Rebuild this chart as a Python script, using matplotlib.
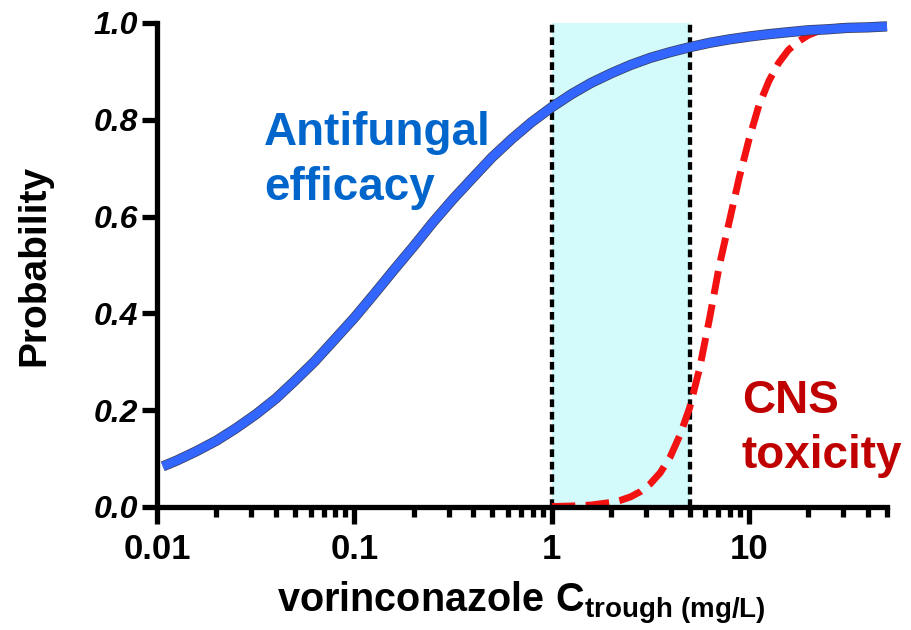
import matplotlib
matplotlib.use("Agg")
import matplotlib.pyplot as plt
import matplotlib.patheffects as pe
from matplotlib.ticker import FixedLocator, NullFormatter, FixedFormatter

plt.rcParams['font.family'] = ['Liberation Sans', 'DejaVu Sans']
plt.rcParams['mathtext.fontset'] = 'custom'
plt.rcParams['mathtext.rm'] = 'Liberation Sans:bold'
plt.rcParams['mathtext.bf'] = 'Liberation Sans:bold'
plt.rcParams['mathtext.it'] = 'Liberation Sans:bold:italic'

# Probability of antifungal efficacy vs voriconazole trough concentration (mg/L)
efficacy_conc = [0.0107, 0.0126, 0.0158, 0.020, 0.025, 0.0316, 0.040, 0.050, 0.063,
                 0.079, 0.10, 0.126, 0.158, 0.20, 0.25, 0.316, 0.40, 0.50, 0.63,
                 0.79, 1.0, 1.26, 1.58, 2.0, 2.5, 3.16, 4.0, 5.0, 6.3, 7.9, 10.0,
                 12.6, 15.8, 20.0, 25.0, 31.6, 40.0, 50.0]
efficacy_prob = [0.084, 0.096, 0.115, 0.137, 0.162, 0.191, 0.224, 0.261, 0.301,
                 0.345, 0.391, 0.440, 0.489, 0.539, 0.588, 0.636, 0.681, 0.723,
                 0.761, 0.795, 0.826, 0.853, 0.876, 0.896, 0.913, 0.928, 0.940,
                 0.950, 0.959, 0.966, 0.972, 0.977, 0.981, 0.985, 0.987, 0.990,
                 0.991, 0.993]

# Probability of CNS toxicity
toxicity_conc = [1.0, 1.26, 1.58, 2.0, 2.24, 2.51, 2.82, 3.16, 3.55, 3.98, 4.47,
                 5.0, 5.62, 6.31, 7.08, 7.94, 8.91, 10.0, 11.2, 12.6, 14.1, 15.8,
                 17.8, 20.0, 22.4, 25.1, 31.6, 50.0]
toxicity_prob = [0.001, 0.002, 0.004, 0.0095, 0.014, 0.021, 0.032, 0.048, 0.071,
                 0.103, 0.149, 0.205, 0.287, 0.390, 0.500, 0.590, 0.680, 0.760,
                 0.829, 0.880, 0.917, 0.944, 0.962, 0.975, 0.983, 0.989, 0.993,
                 0.995]

# Therapeutic window
target_range = [1.0, 5.0]

x_major = [0.01, 0.1, 1, 10]
x_major_labels = ["0.01", "0.1", "1", "10"]
x_minor = [m * d for d in (0.01, 0.1, 1) for m in range(2, 10)] + [20, 30, 40, 50]
y_ticks = [0.0, 0.2, 0.4, 0.6, 0.8, 1.0]
y_tick_labels = ["0.0", "0.2", "0.4", "0.6", "0.8", "1.0"]

fig = plt.figure(figsize=(9.12, 6.30), dpi=100)
ax = fig.add_axes([157 / 912, 1 - 507 / 630, (887 - 157) / 912, (507 - 23) / 630])

ax.set_xscale('log')
ax.set_xlim(0.01, 50)
ax.set_ylim(0, 1.0)

# Shaded target window with dotted borders
ax.axvspan(target_range[0], target_range[1], ymin=0, ymax=1, color='#d4fbfb',
           lw=0, zorder=0)
for xv in target_range:
    ax.plot([xv, xv], [0, 1.0], color='black', lw=3.1,
            linestyle=(0, (1.8, 1.1)), dash_capstyle='butt', zorder=1,
            clip_on=False)

# Curves
ax.plot(toxicity_conc, toxicity_prob, color='#f21212', lw=5,
        linestyle=(0, (3.4, 1.5)), dash_capstyle='butt', zorder=2,
        solid_joinstyle='round')
ax.plot(efficacy_conc, efficacy_prob, color='#3366ff', lw=6.3, zorder=3,
        solid_capstyle='butt', solid_joinstyle='round',
        path_effects=[pe.Stroke(linewidth=7.4, foreground='#3a3f5e'), pe.Normal()],
        clip_on=False)

# Curve annotations
ax.text(0.0349, 0.748, "Antifungal", color='#0066cc', fontsize=33,
        fontweight='bold', ha='left', va='baseline')
ax.text(0.0349, 0.634, "efficacy", color='#0066cc', fontsize=33,
        fontweight='bold', ha='left', va='baseline')
ax.text(9.2, 0.194, "CNS", color='#c00000', fontsize=33,
        fontweight='bold', ha='left', va='baseline')
ax.text(9.2, 0.081, "toxicity", color='#c00000', fontsize=33,
        fontweight='bold', ha='left', va='baseline')

# Axes styling
for side in ('top', 'right'):
    ax.spines[side].set_visible(False)
for side in ('left', 'bottom'):
    ax.spines[side].set_linewidth(3.8)
    ax.spines[side].set_capstyle('projecting')

ax.xaxis.set_major_locator(FixedLocator(x_major))
ax.xaxis.set_major_formatter(FixedFormatter(x_major_labels))
ax.xaxis.set_minor_locator(FixedLocator(x_minor))
ax.xaxis.set_minor_formatter(NullFormatter())
ax.yaxis.set_major_locator(FixedLocator(y_ticks))
ax.yaxis.set_major_formatter(FixedFormatter(y_tick_labels))

ax.tick_params(axis='x', which='major', direction='out', length=12, width=3.8,
               pad=7, labelsize=25)
ax.tick_params(axis='x', which='minor', direction='out', length=7, width=3.8)
ax.tick_params(axis='y', which='major', direction='out', length=11, width=3.8,
               pad=3, labelsize=23)
for lbl in ax.get_xticklabels():
    lbl.set_fontweight('bold')
for lbl in ax.get_yticklabels():
    lbl.set_fontweight('bold')
    lbl.set_fontstyle('italic')

fig.text(521 / 912, 1 - 612 / 630,
         r"$\mathbf{vorinconazole\ C_{trough\ (mg/L)}}$",
         fontsize=28.5, ha='center', va='baseline')
fig.text(34 / 912, 1 - 265 / 630, "Probability", fontsize=28,
         fontweight='bold', rotation=90, ha='center', va='center')

fig.savefig("out.png", dpi=100)
